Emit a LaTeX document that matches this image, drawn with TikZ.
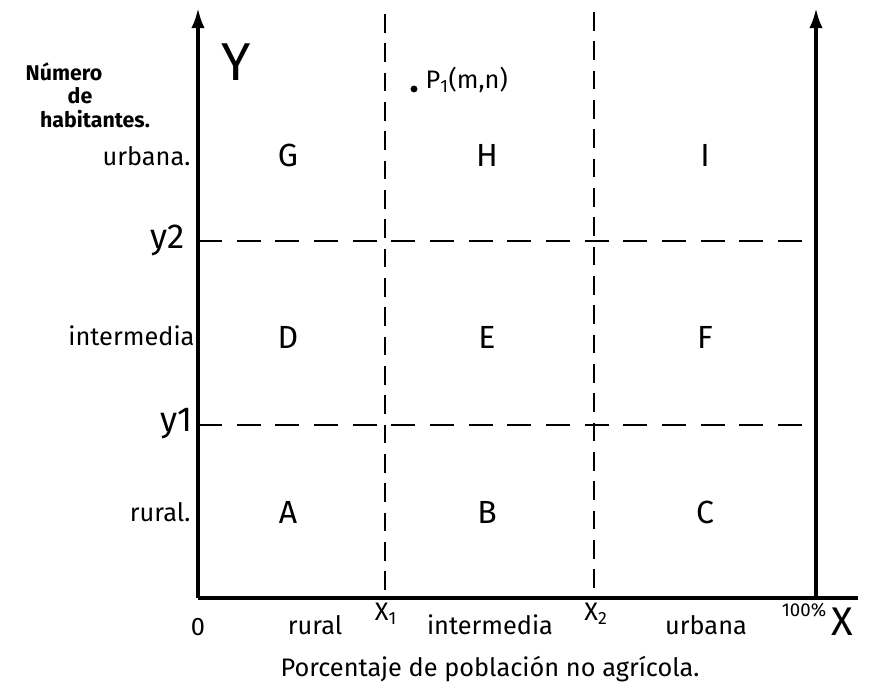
\documentclass[tikz,border=0pt]{standalone}
\usepackage{fontspec}
\setmainfont{Fira Sans}
\usetikzlibrary{arrows.meta}
\begin{document}
\begin{tikzpicture}[x=0.75pt,y=-0.75pt,
  axisline/.style={line width=2.6pt},
  gridline/.style={line width=1.8pt,dash pattern=on 18pt off 11pt},
  vgridline/.style={line width=1.8pt,dash pattern=on 14pt off 8pt},
  every node/.style={inner sep=1pt,font=\fontsize{19}{22}\selectfont},
  cell/.style={font=\fontsize{24}{28}\selectfont},
  ytitle/.style={inner sep=0pt,font=\bfseries\fontsize{16}{18}\selectfont}]
\useasboundingbox (0,0) rectangle (886,689);
\coordinate (origin) at (198,598);
\coordinate (ytop) at (198,8);
\coordinate (rbase) at (816,598);
\coordinate (rtop) at (816,8);
\coordinate (xend) at (858,598);
\coordinate (xa) at (385,14);
\coordinate (xab) at (385,598);
\coordinate (xb) at (594,12);
\coordinate (xbb) at (594,598);
\coordinate (yb) at (198,241);
\coordinate (ybr) at (816,241);
\coordinate (ya) at (198,425);
\coordinate (yar) at (816,425);
% grid
\draw[vgridline] (xa)--(xab);\draw[vgridline] (xb)--(xbb);
\draw[gridline] (yb)--(ybr);\draw[gridline] (ya)--(yar);
% axes
\draw[axisline,-{Latex[length=15pt,width=10pt]}] (origin)--(ytop);
\draw[axisline,-{Latex[length=15pt,width=10pt]}] (rbase)--(rtop);
\draw[axisline] (origin)--(xend);
% y side labels
\node[ytitle] (numero) at (64,72) {Número};
\node[font=\fontsize{40}{42}\selectfont] (ylab) at (236,62) {Y};
\node[ytitle] (de) at (80,96) {de};
\node[ytitle] (habit) at (95,119) {habitantes.};
\node[anchor=east] (urb) at (192,156) {urbana.};
\node[anchor=east,font=\fontsize{26}{28}\selectfont] (ytwo) at (186,240) {y2};
\node[anchor=east] (inter) at (196,336) {intermedia};
\node[anchor=east,font=\fontsize{26}{28}\selectfont] (yone) at (194,424) {y1};
\node[anchor=east] (rur) at (192,512) {rural.};
% cells
\node[cell] (G) at (288,155) {G};
\node[cell] (H) at (487,155) {H};
\node[cell] (I) at (705,155) {I};
\node[cell] (D) at (288,337) {D};
\node[cell] (E) at (487,337) {E};
\node[cell] (F) at (705,337) {F};
\node[cell] (A) at (288,512) {A};
\node[cell] (B) at (487,512) {B};
\node[cell] (C) at (705,512) {C};
% point
\fill (414,89) circle (2.6pt);
\node[anchor=west] (pone) at (424,80) {P\textsubscript{1}(m,n)};
% x side labels
\node (zero) at (198,627) {0};
\node (xrur) at (315,625) {rural};
\node (xone) at (386,614) {X\textsubscript{1}};
\node (xint) at (490,625) {intermedia};
\node (xtwo) at (596,614) {X\textsubscript{2}};
\node (xurb) at (706,625) {urbana};
\node[font=\fontsize{14}{16}\selectfont] (hund) at (804,610) {100\%};
\node[font=\fontsize{30}{32}\selectfont] (xlab) at (842,622) {X};
\node (caption) at (490,669) {Porcentaje de población no agrícola.};
\end{tikzpicture}
\end{document}
